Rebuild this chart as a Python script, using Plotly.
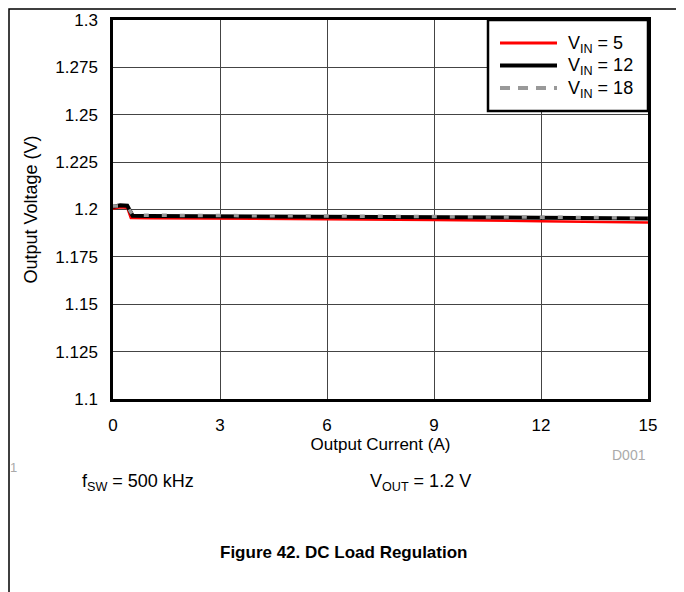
import plotly.graph_objects as go

# ----------------------------
# Data
# ----------------------------
current_5 = [0, 0.2, 0.4, 0.5, 1, 3, 6, 9, 12, 15]
vout_5 = [1.2005, 1.2012, 1.2009, 1.1955, 1.1954, 1.1952, 1.1948, 1.1945, 1.1938, 1.1932]

current_12 = [0, 0.2, 0.4, 0.55, 1, 3, 6, 9, 12, 15]
vout_12 = [1.2015, 1.2022, 1.2020, 1.1967, 1.1966, 1.1965, 1.1963, 1.1960, 1.1957, 1.1953]

current_18 = [0, 0.2, 0.4, 0.55, 1, 3, 6, 9, 12, 15]
vout_18 = [1.2018, 1.2020, 1.2018, 1.1970, 1.1969, 1.1968, 1.1966, 1.1963, 1.1960, 1.1956]

series_names = ["V<sub>IN</sub> = 5", "V<sub>IN</sub> = 12", "V<sub>IN</sub> = 18"]

x_ticks = [0, 3, 6, 9, 12, 15]
y_ticks = [1.1, 1.125, 1.15, 1.175, 1.2, 1.225, 1.25, 1.275, 1.3]
y_labels = ["1.1", "1.125", "1.15", "1.175", "1.2", "1.225", "1.25", "1.275", "1.3"]

FONT = "Liberation Sans, Arial, sans-serif"

styles = [
    dict(color="#ff0000", width=2.5),
    dict(color="black", width=4),
    dict(color="#999999", width=3.5, dash="5px,13px"),
]
legend_styles = [
    dict(color="#ff0000", width=3),
    dict(color="black", width=4),
    dict(color="#999999", width=4, dash="10px,8px"),
]

fig = go.Figure()
for xs, ys, name, st in zip([current_5, current_12, current_18],
                            [vout_5, vout_12, vout_18], series_names, styles):
    fig.add_trace(go.Scatter(x=xs, y=ys, mode="lines", name=name, line=st, showlegend=False))

# the page is drawn with an 8px body margin, so size the figure to fit the window
# and work in screen pixels minus that offset
OFF = 8
W, H = 684 - OFF, 592 - OFF
L, R, T, B = 113 - OFF, 648 - OFF, 20 - OFF, 399 - OFF


def px(x):
    return (x - OFF - L) / (R - L)


def py(y):
    return (B - (y - OFF)) / (B - T)


fig.update_layout(
    width=W, height=H,
    margin=dict(l=L, r=W - R, t=T, b=H - B, autoexpand=False),
    paper_bgcolor="white", plot_bgcolor="white",
    font=dict(family=FONT, size=17, color="black"),
    showlegend=False,
    xaxis=dict(range=[0, 15], tickvals=x_ticks, showgrid=True, gridcolor="#444444", gridwidth=1,
               showline=True, linecolor="black", linewidth=2.5, mirror=True, ticks="",
               zeroline=False, tickfont=dict(size=17), ticklabelstandoff=9,
               title=dict(text="Output Current (A)", standoff=4, font=dict(size=17))),
    yaxis=dict(range=[1.1, 1.3], tickvals=y_ticks, ticktext=y_labels, showgrid=True,
               gridcolor="#444444", gridwidth=1, showline=True, linecolor="black", linewidth=2.5,
               mirror=True, ticks="", zeroline=False, tickfont=dict(size=17), ticklabelstandoff=9,
               title=dict(text="Output Voltage (V)", standoff=14, font=dict(size=18))),
)

# legend box drawn by hand (long line samples like the reference)
fig.add_shape(type="rect", xref="paper", yref="paper", x0=px(488), x1=px(648), y0=py(111), y1=py(20),
              line=dict(color="black", width=2.5), fillcolor="white", layer="above")
for i, (name, st) in enumerate(zip(series_names, legend_styles)):
    yy = 43 + 22.5 * i
    fig.add_shape(type="line", xref="paper", yref="paper", x0=px(500), x1=px(557), y0=py(yy), y1=py(yy),
                  line=st, layer="above")
    fig.add_annotation(xref="paper", yref="paper", x=px(566), y=py(yy + 1), text=name, showarrow=False,
                       xanchor="left", yanchor="middle", font=dict(size=18))

# page frame: left, top and right edges
fig.add_shape(type="path", xref="paper", yref="paper",
              path=f"M {px(9)},{py(600)} L {px(9)},{py(9)} L {px(680)},{py(9)} L {px(680)},{py(600)}",
              line=dict(color="black", width=1.5))

# annotations below the chart
fig.add_annotation(xref="paper", yref="paper", x=px(648), y=py(455), text="D001", showarrow=False,
                   xanchor="right", yanchor="middle", font=dict(size=14, color="#aaaaaa"))
fig.add_annotation(xref="paper", yref="paper", x=px(8), y=py(467), text="1", showarrow=False,
                   xanchor="left", yanchor="middle", font=dict(size=13, color="#aaaaaa"))
fig.add_annotation(xref="paper", yref="paper", x=px(80), y=py(482), text="f<sub>SW</sub> = 500 kHz",
                   showarrow=False, xanchor="left", yanchor="middle", font=dict(size=18))
fig.add_annotation(xref="paper", yref="paper", x=px(368), y=py(482), text="V<sub>OUT</sub> = 1.2 V",
                   showarrow=False, xanchor="left", yanchor="middle", font=dict(size=18))
fig.add_annotation(xref="paper", yref="paper", x=px(343), y=py(552), text="<b>Figure 42. DC Load Regulation</b>",
                   showarrow=False, xanchor="center", yanchor="middle", font=dict(size=17))

fig.write_html("out.html")
